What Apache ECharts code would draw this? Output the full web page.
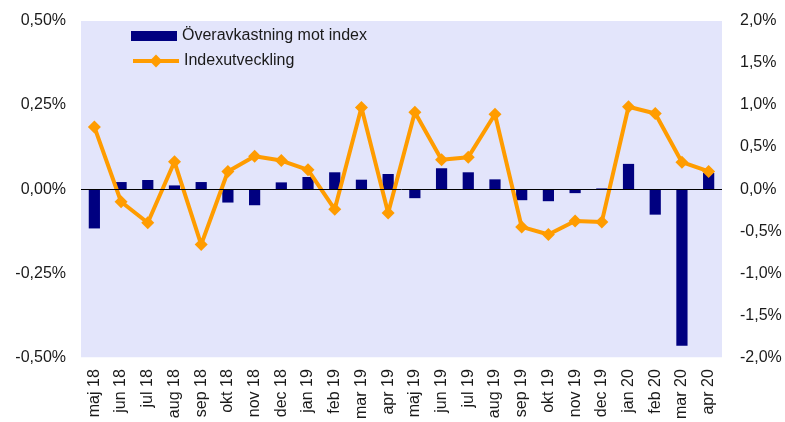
<!DOCTYPE html>
<html>
<head>
<meta charset="utf-8">
<script src="https://cdn.jsdelivr.net/npm/echarts@6/dist/echarts.min.js"></script>
<style>
  html, body { margin: 0; padding: 0; background: #ffffff; }
  #chart { width: 785px; height: 422px; }
</style>
</head>
<body>
<div id="chart"></div>
<script>
// Månader (maj 2018 – apr 2020)
const months = ['maj 18','jun 18','jul 18','aug 18','sep 18','okt 18','nov 18','dec 18',
  'jan 19','feb 19','mar 19','apr 19','maj 19','jun 19','jul 19','aug 19',
  'sep 19','okt 19','nov 19','dec 19','jan 20','feb 20','mar 20','apr 20'];

// Överavkastning mot index, procentenheter (vänster axel)
const excessReturn = [-0.117, 0.021, 0.027, 0.011, 0.021, -0.040, -0.048, 0.020,
  0.036, 0.050, 0.028, 0.045, -0.027, 0.062, 0.050, 0.029,
  -0.033, -0.036, -0.012, 0.002, 0.075, -0.076, -0.466, 0.048];

// Indexutveckling, procent (höger axel)
const indexChange = [0.74, -0.15, -0.40, 0.325, -0.66, 0.21, 0.39, 0.34,
  0.23, -0.24, 0.97, -0.285, 0.915, 0.35, 0.38, 0.89,
  -0.45, -0.54, -0.38, -0.39, 0.98, 0.90, 0.32, 0.21];

const leftTicks = { min: -0.5, max: 0.5, step: 0.25, decimals: 2 };
const rightTicks = { min: -2, max: 2, step: 0.5, decimals: 1 };

const barName = 'Överavkastning mot index';
const lineName = 'Indexutveckling';

const fmt = (d) => (v) => v.toFixed(d).replace('.', ',') + '%';
const font = 'Liberation Sans, Arial, sans-serif';
const textColor = '#1a1a1a';
const orange = '#FF9C00';

const chart = echarts.init(document.getElementById('chart'), null, { renderer: 'canvas' });
chart.setOption({
  animation: false,
  backgroundColor: '#ffffff',
  textStyle: { fontFamily: font },
  grid: {
    left: 81, right: 63, top: 21, bottom: 64.5,
    show: true, backgroundColor: '#E3E5FB', borderWidth: 0
  },
  legend: [
    {
      data: [{ name: barName, icon: 'rect' }],
      left: 131, top: 28, padding: 0, itemWidth: 46, itemHeight: 10, itemGap: 4,
      textStyle: { fontSize: 16, color: textColor, fontFamily: font }
    },
    {
      data: [{ name: lineName }],
      left: 131, top: 53, padding: 0, itemWidth: 46, itemHeight: 16, itemGap: 2,
      lineStyle: { width: 4, color: orange },
      textStyle: { fontSize: 16, color: textColor, fontFamily: font }
    }
  ],
  xAxis: {
    type: 'category',
    data: months,
    boundaryGap: true,
    axisLine: { show: false, onZero: false },
    axisTick: { show: false },
    axisLabel: { rotate: 90, interval: 0, margin: 12, fontSize: 16, color: textColor, fontFamily: font }
  },
  yAxis: [
    {
      type: 'value',
      min: leftTicks.min, max: leftTicks.max, interval: leftTicks.step,
      splitLine: { show: false },
      axisLine: { show: false }, axisTick: { show: false },
      axisLabel: { formatter: fmt(leftTicks.decimals), fontSize: 16, color: textColor, margin: 15, fontFamily: font }
    },
    {
      type: 'value',
      min: rightTicks.min, max: rightTicks.max, interval: rightTicks.step,
      splitLine: { show: false },
      axisLine: { show: false }, axisTick: { show: false },
      axisLabel: { formatter: fmt(rightTicks.decimals), fontSize: 16, color: textColor, margin: 18, fontFamily: font }
    }
  ],
  series: [
    {
      name: barName,
      type: 'bar',
      yAxisIndex: 0,
      data: excessReturn,
      barWidth: '42%',
      itemStyle: { color: '#000080' },
      markLine: {
        silent: true,
        symbol: 'none',
        label: { show: false },
        lineStyle: { color: '#000000', width: 1, type: 'solid' },
        data: [{ yAxis: 0 }]
      },
      z: 2
    },
    {
      name: lineName,
      type: 'line',
      yAxisIndex: 1,
      data: indexChange,
      symbol: 'diamond',
      symbolSize: 13,
      lineStyle: { color: orange, width: 4 },
      itemStyle: { color: orange },
      z: 3
    }
  ]
});
</script>
</body>
</html>
